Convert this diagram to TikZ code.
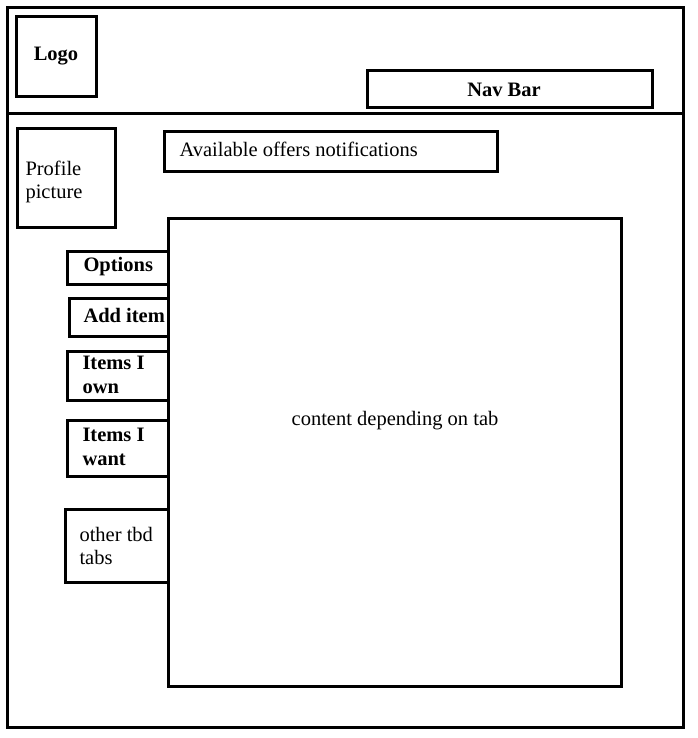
\documentclass[tikz,border=0pt]{standalone}
\usepackage{fontspec}
\setmainfont{Liberation Serif}
\newfontfamily\wirefont{Liberation Serif}
\begin{document}
\begin{tikzpicture}[x=1pt, y=-1pt, line width=3pt,
	box/.style={draw=black},
	txt/.style={inner sep=0pt, font=\wirefont\fontsize{20.5}{23.5}\selectfont, align=left},
	btxt/.style={txt, font=\wirefont\fontsize{20.5}{23.5}\selectfont\bfseries}]
	\useasboundingbox (0,0) rectangle (697,738);
	
	% page frame and header
	\draw[box] (7,8) rectangle (683,727);
	\draw (7,114) -- (683,114);
	\draw[box] (16,17) rectangle (96,97);
	\node[btxt] (logo) at (56,56) {Logo};
	\draw[box] (367,71) rectangle (652,108);
	\node[btxt] (navbar) at (504,90) {Nav Bar};
	
	% profile and offers
	\draw[box] (17,129) rectangle (115,227);
	\node[txt, anchor=west] (profile) at (24,182) {Profile\\picture};
	\draw[box] (164,132) rectangle (497,172);
	\node[txt, anchor=west] (offers) at (178,149) {Available offers notifications};
	
	% tabs
	\draw[box] (67,251) rectangle (168,284);
	\node[btxt, anchor=west] (options) at (82,267) {Options};
	\draw[box] (69,298) rectangle (168,336);
	\node[btxt, anchor=west] (additem) at (82,315) {Add item};
	\draw[box] (67,351) rectangle (168,400);
	\node[btxt, anchor=west] (own) at (81,375) {Items I\\own};
	\draw[box] (67,420) rectangle (168,476);
	\node[btxt, anchor=west] (want) at (81,447) {Items I\\want};
	\draw[box] (65,509) rectangle (168,582);
	\node[txt, anchor=west] (tbd) at (78,546) {other tbd\\tabs};
	
	% main content
	\draw[box] (168,218) rectangle (621,686);
	\node[txt] (content) at (395,421) {content depending on tab};
\end{tikzpicture}
\end{document}
